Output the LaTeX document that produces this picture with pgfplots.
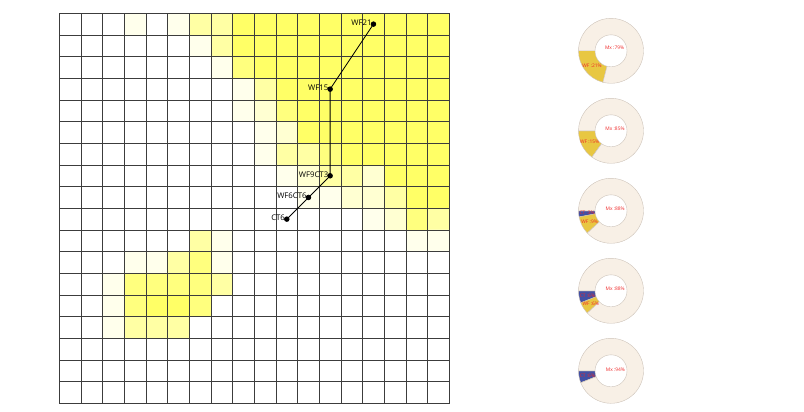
\documentclass[border=0pt]{standalone}
\usepackage{fontspec}
\setmainfont{Open Sans}
\usepackage{pgfplots}
\pgfplotsset{compat=1.18}

\definecolor{mxfill}{RGB}{248,240,230}
\definecolor{wffill}{RGB}{232,199,66}
\definecolor{ctfill}{RGB}{66,80,164}
\definecolor{ringline}{RGB}{205,195,185}
\definecolor{pielbl}{RGB}{240,40,40}
\definecolor{gridln}{RGB}{60,60,60}

% one donut: center y (px from top), CT %, WF %, Mx %
\newcommand\donut[4]{%
  \fill[ctfill,draw=ringline,line width=0.4bp] (axis cs:611,#1) -- ++(180:32.5bp)
    arc[start angle=180,end angle={180+3.6*#2},radius=32.5bp] -- cycle;
  \fill[wffill,draw=ringline,line width=0.4bp] (axis cs:611,#1) -- ++({180+3.6*#2}:32.5bp)
    arc[start angle={180+3.6*#2},end angle={180+3.6*(#2+#3)},radius=32.5bp] -- cycle;
  \fill[mxfill,draw=ringline,line width=0.4bp] (axis cs:611,#1) -- ++({180+3.6*(#2+#3)}:32.5bp)
    arc[start angle={180+3.6*(#2+#3)},end angle=540,radius=32.5bp] -- cycle;
  \fill[white,draw=ringline,line width=0.4bp] (axis cs:611,#1) circle[radius=16bp];
  \ifdim#2pt>0pt
    \node[pielbl,font=\fontsize{4.9}{5}\selectfont,inner sep=0pt]
      at ([shift={({180+1.8*#2}:24bp)}]axis cs:611,#1) {CT :#2\%};
  \fi
  \ifdim#3pt>0pt
    \node[pielbl,font=\fontsize{4.9}{5}\selectfont,inner sep=0pt]
      at ([shift={({180+3.6*#2+1.8*#3}:24bp)}]axis cs:611,#1) {WF :#3\%};
  \fi
  \node[pielbl,font=\fontsize{4.9}{5}\selectfont,inner sep=0pt]
    at ([shift={({180+3.6*(#2+#3)+1.8*#4}:4.5bp)}]axis cs:611,#1) {Mx :#4\%};
}

\begin{document}
\begin{tikzpicture}
  \begin{axis}[
    set layers,
    at={(59.3bp,8.7bp)}, anchor=south west,
    scale only axis, width=390bp, height=390bp,
    xmin=-0.5, xmax=17.5, ymin=-0.5, ymax=17.5,
    y dir=reverse,
    xtick={-0.5,0.5,...,17.5}, ytick={-0.5,0.5,...,17.5},
    xticklabels={}, yticklabels={},
    major tick length=0pt,
    grid=major,
    major grid style={gridln,line width=0.7bp},
    axis line style={gridln,line width=0.7bp},
    colormap={heat}{rgb255(0)=(255,255,255) rgb255(1)=(255,255,236)
      rgb255(2)=(255,255,210) rgb255(3)=(255,255,164)
      rgb255(4)=(255,255,126) rgb255(5)=(255,255,102)},
    point meta min=0, point meta max=5,
  ]
    \addplot[matrix plot*, mesh/cols=18, point meta=explicit, on layer=axis background] coordinates {
      (0,0)[0] (1,0)[0] (2,0)[0] (3,0)[1] (4,0)[0] (5,0)[1] (6,0)[3] (7,0)[3] (8,0)[5] (9,0)[5] (10,0)[5] (11,0)[5] (12,0)[5] (13,0)[5] (14,0)[5] (15,0)[5] (16,0)[5] (17,0)[5]

      (0,1)[0] (1,1)[0] (2,1)[0] (3,1)[0] (4,1)[0] (5,1)[0] (6,1)[1] (7,1)[3] (8,1)[5] (9,1)[5] (10,1)[5] (11,1)[5] (12,1)[5] (13,1)[5] (14,1)[5] (15,1)[5] (16,1)[5] (17,1)[5]

      (0,2)[0] (1,2)[0] (2,2)[0] (3,2)[0] (4,2)[0] (5,2)[0] (6,2)[0] (7,2)[1] (8,2)[4] (9,2)[5] (10,2)[5] (11,2)[5] (12,2)[5] (13,2)[5] (14,2)[5] (15,2)[5] (16,2)[5] (17,2)[5]

      (0,3)[0] (1,3)[0] (2,3)[0] (3,3)[0] (4,3)[0] (5,3)[0] (6,3)[0] (7,3)[0] (8,3)[1] (9,3)[3] (10,3)[5] (11,3)[5] (12,3)[5] (13,3)[5] (14,3)[5] (15,3)[5] (16,3)[5] (17,3)[5]

      (0,4)[0] (1,4)[0] (2,4)[0] (3,4)[0] (4,4)[0] (5,4)[0] (6,4)[0] (7,4)[0] (8,4)[1] (9,4)[2] (10,4)[4] (11,4)[5] (12,4)[5] (13,4)[5] (14,4)[5] (15,4)[5] (16,4)[5] (17,4)[5]

      (0,5)[0] (1,5)[0] (2,5)[0] (3,5)[0] (4,5)[0] (5,5)[0] (6,5)[0] (7,5)[0] (8,5)[0] (9,5)[1] (10,5)[2] (11,5)[5] (12,5)[5] (13,5)[5] (14,5)[5] (15,5)[5] (16,5)[5] (17,5)[5]

      (0,6)[0] (1,6)[0] (2,6)[0] (3,6)[0] (4,6)[0] (5,6)[0] (6,6)[0] (7,6)[0] (8,6)[0] (9,6)[1] (10,6)[3] (11,6)[3] (12,6)[4] (13,6)[5] (14,6)[5] (15,6)[5] (16,6)[5] (17,6)[5]

      (0,7)[0] (1,7)[0] (2,7)[0] (3,7)[0] (4,7)[0] (5,7)[0] (6,7)[0] (7,7)[0] (8,7)[0] (9,7)[0] (10,7)[1] (11,7)[2] (12,7)[3] (13,7)[3] (14,7)[2] (15,7)[5] (16,7)[5] (17,7)[5]

      (0,8)[0] (1,8)[0] (2,8)[0] (3,8)[0] (4,8)[0] (5,8)[0] (6,8)[0] (7,8)[0] (8,8)[0] (9,8)[0] (10,8)[0] (11,8)[1] (12,8)[1] (13,8)[2] (14,8)[2] (15,8)[3] (16,8)[5] (17,8)[5]

      (0,9)[0] (1,9)[0] (2,9)[0] (3,9)[0] (4,9)[0] (5,9)[0] (6,9)[0] (7,9)[0] (8,9)[0] (9,9)[0] (10,9)[0] (11,9)[0] (12,9)[0] (13,9)[0] (14,9)[1] (15,9)[2] (16,9)[4] (17,9)[3]

      (0,10)[0] (1,10)[0] (2,10)[0] (3,10)[0] (4,10)[0] (5,10)[0] (6,10)[3] (7,10)[1] (8,10)[0] (9,10)[0] (10,10)[0] (11,10)[0] (12,10)[0] (13,10)[0] (14,10)[0] (15,10)[0] (16,10)[1] (17,10)[1]

      (0,11)[0] (1,11)[0] (2,11)[0] (3,11)[1] (4,11)[1] (5,11)[3] (6,11)[4] (7,11)[1] (8,11)[0] (9,11)[0] (10,11)[0] (11,11)[0] (12,11)[0] (13,11)[0] (14,11)[0] (15,11)[0] (16,11)[0] (17,11)[0]

      (0,12)[0] (1,12)[0] (2,12)[1] (3,12)[4] (4,12)[4] (5,12)[4] (6,12)[4] (7,12)[3] (8,12)[0] (9,12)[0] (10,12)[0] (11,12)[0] (12,12)[0] (13,12)[0] (14,12)[0] (15,12)[0] (16,12)[0] (17,12)[0]

      (0,13)[0] (1,13)[0] (2,13)[1] (3,13)[4] (4,13)[5] (5,13)[5] (6,13)[4] (7,13)[0] (8,13)[0] (9,13)[0] (10,13)[0] (11,13)[0] (12,13)[0] (13,13)[0] (14,13)[0] (15,13)[0] (16,13)[0] (17,13)[0]

      (0,14)[0] (1,14)[0] (2,14)[1] (3,14)[3] (4,14)[3] (5,14)[3] (6,14)[0] (7,14)[0] (8,14)[0] (9,14)[0] (10,14)[0] (11,14)[0] (12,14)[0] (13,14)[0] (14,14)[0] (15,14)[0] (16,14)[0] (17,14)[0]

      (0,15)[0] (1,15)[0] (2,15)[0] (3,15)[0] (4,15)[0] (5,15)[0] (6,15)[0] (7,15)[0] (8,15)[0] (9,15)[0] (10,15)[0] (11,15)[0] (12,15)[0] (13,15)[0] (14,15)[0] (15,15)[0] (16,15)[0] (17,15)[0]

      (0,16)[0] (1,16)[0] (2,16)[0] (3,16)[0] (4,16)[0] (5,16)[0] (6,16)[0] (7,16)[0] (8,16)[0] (9,16)[0] (10,16)[0] (11,16)[0] (12,16)[0] (13,16)[0] (14,16)[0] (15,16)[0] (16,16)[0] (17,16)[0]

      (0,17)[0] (1,17)[0] (2,17)[0] (3,17)[0] (4,17)[0] (5,17)[0] (6,17)[0] (7,17)[0] (8,17)[0] (9,17)[0] (10,17)[0] (11,17)[0] (12,17)[0] (13,17)[0] (14,17)[0] (15,17)[0] (16,17)[0] (17,17)[0]
    };
    % path of the stations
    \addplot[black, line width=0.8bp, mark=*, mark size=2.3bp,
      nodes near coords, point meta=explicit symbolic,
      every node near coord/.append style={anchor=east, inner sep=1bp,
        xshift=-0.5bp, yshift=1.5bp, text=black,
        font=\fontsize{7.8}{8}\selectfont}]
      coordinates {(10,9)[CT6] (11,8)[WF6CT6] (12,7)[WF9CT3] (12,3)[WF15] (14,0)[WF21]};
  \end{axis}

  \begin{axis}[
    at={(0,0)}, anchor=south west,
    scale only axis, width=804bp, height=412bp,
    xmin=0, xmax=804, ymin=0, ymax=412, y dir=reverse,
    hide axis, clip=false,
  ]
    \donut{50.8}{0}{21}{79}
    \donut{130.8}{0}{15}{85}
    \donut{210.8}{3}{9}{88}
    \donut{290.8}{6}{6}{88}
    \donut{370.8}{6}{0}{94}
  \end{axis}

  \path (0,0) rectangle (804bp,412bp);
\end{tikzpicture}
\end{document}
